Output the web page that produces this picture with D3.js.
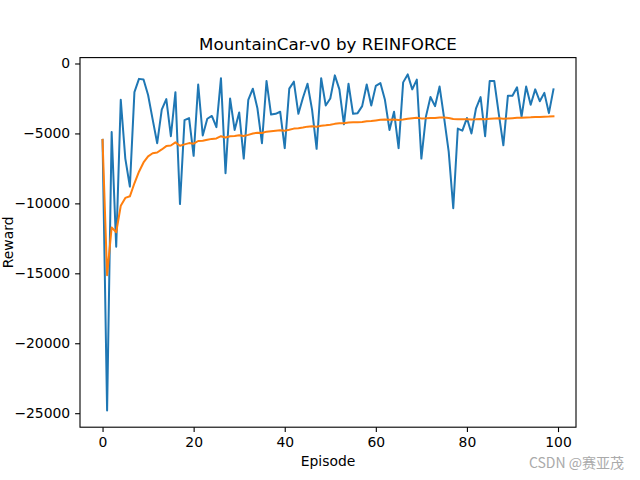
<!DOCTYPE html>
<html>
<head>
<meta charset="utf-8">
<script src="https://cdn.jsdelivr.net/npm/d3@7"></script>
<style>
  html, body { margin: 0; padding: 0; background: #fff; }
  svg { display: block; }
  text { font-family: "DejaVu Sans", sans-serif; }
</style>
</head>
<body>
<script>
// ---- data ----
const episodes = d3.range(0, 100);
const rewards = [
  -5460, -24800, -4900, -13100, -2600, -6800, -8800, -2050, -1100, -1150,
  -2250, -4000, -5700, -3300, -2550, -5200, -2050, -10050, -4050, -3900,
  -6600, -1500, -5150, -3950, -3750, -4550, -1050, -7850, -2500, -4750,
  -3500, -6800, -2600, -1800, -3200, -5700, -1250, -3650, -3600, -3450,
  -6050, -1800, -1300, -3600, -2450, -1450, -3300, -6100, -1050, -3000,
  -2500, -850, -1850, -4350, -1450, -3600, -3550, -3050, -1500, -3000,
  -1600, -1400, -2600, -4750, -3450, -6050, -1350, -780, -1850, -1150,
  -6800, -3800, -2400, -3050, -1650, -3900, -6300, -10350, -4650, -4800,
  -3900, -5000, -3200, -2400, -5200, -1250, -1250, -3600, -5850, -2300,
  -2300, -1700, -3800, -1650, -2950, -1850, -2700, -2100, -3550, -1850
];
const avgRewards = [
  -5460, -15130, -11720, -12065, -10172, -9610, -9495, -8563, -7735, -7076,
  -6638, -6418, -6363, -6144, -5905, -5860, -5636, -5881, -5785, -5691,
  -5734, -5541, -5525, -5459, -5390, -5358, -5198, -5294, -5197, -5182,
  -5128, -5180, -5102, -5005, -4953, -4974, -4873, -4841, -4809, -4775,
  -4807, -4735, -4655, -4631, -4583, -4515, -4489, -4522, -4451, -4422,
  -4384, -4316, -4270, -4271, -4220, -4209, -4197, -4177, -4132, -4113,
  -4072, -4029, -4006, -4018, -4009, -4040, -4000, -3952, -3921, -3883,
  -3924, -3922, -3901, -3890, -3860, -3860, -3892, -3975, -3983, -3994,
  -3992, -4005, -3995, -3976, -3990, -3958, -3927, -3923, -3945, -3927,
  -3909, -3884, -3883, -3860, -3849, -3830, -3818, -3801, -3796, -3779
];
const xTicks = [0, 20, 40, 60, 80, 100];
const yTicks = [0, -5000, -10000, -15000, -20000, -25000];
const titleText = "MountainCar-v0 by REINFORCE";
const xLabel = "Episode";
const yLabel = "Reward";
const watermark = "CSDN @赛亚茂";

// ---- layout ----
const W = 640, H = 480;
const L = 80, R = 576, T = 57.6, B = 427.2;

const svg = d3.select("body").append("svg").attr("width", W).attr("height", H);

// matplotlib-like 5% margins
const xmin = 0, xmax = 99;
const xm = (xmax - xmin) * 0.05;
const allY = rewards.concat(avgRewards);
const ymin = d3.min(allY), ymax = d3.max(allY);
const ym = (ymax - ymin) * 0.05;

const x = d3.scaleLinear().domain([xmin - xm, xmax + xm]).range([L, R]);
const y = d3.scaleLinear().domain([ymin - ym, ymax + ym]).range([B, T]);

const fmt = v => (v < 0 ? "\u2212" + Math.abs(v) : String(v));

// lines
const line = d3.line().x((d, i) => x(episodes[i])).y(d => y(d));
svg.append("path").datum(rewards).attr("d", line)
  .attr("fill", "none").attr("stroke", "#1f77b4").attr("stroke-width", 2)
  .attr("stroke-linejoin", "round").attr("stroke-linecap", "square");
svg.append("path").datum(avgRewards).attr("d", line)
  .attr("fill", "none").attr("stroke", "#ff7f0e").attr("stroke-width", 2)
  .attr("stroke-linejoin", "round").attr("stroke-linecap", "square");

// axes
const xAxis = d3.axisBottom(x).tickValues(xTicks).tickSize(4.9).tickPadding(4.9).tickFormat(fmt);
const yAxis = d3.axisLeft(y).tickValues(yTicks).tickSize(4.9).tickPadding(4.9).tickFormat(fmt);

const gx = svg.append("g").attr("transform", `translate(0,${B})`).call(xAxis);
const gy = svg.append("g").attr("transform", `translate(${L},0)`).call(yAxis);
[gx, gy].forEach(g => {
  g.select(".domain").remove();
  g.selectAll(".tick line").attr("stroke", "#000").attr("stroke-width", 1.1);
  g.selectAll(".tick text").attr("fill", "#000").style("font-size", "13.9px")
    .style("font-family", "DejaVu Sans, sans-serif");
});
gx.selectAll(".tick text").attr("dy", "0.71em");

// frame
svg.append("rect").attr("x", L).attr("y", T).attr("width", R - L).attr("height", B - T)
  .attr("fill", "none").attr("stroke", "#000").attr("stroke-width", 1.1);

// title & labels
svg.append("text").attr("x", (L + R) / 2).attr("y", 50).attr("text-anchor", "middle")
  .style("font-size", "16.7px").attr("fill", "#000").text(titleText);
svg.append("text").attr("x", (L + R) / 2).attr("y", 466).attr("text-anchor", "middle")
  .style("font-size", "13.9px").attr("fill", "#000").text(xLabel);
svg.append("text").attr("transform", `translate(12.5,${(T + B) / 2}) rotate(-90)`)
  .attr("text-anchor", "middle").style("font-size", "13.9px").attr("fill", "#000").text(yLabel);

// watermark
svg.append("text").attr("x", 624).attr("y", 468).attr("text-anchor", "end")
  .style("font-size", "14px").attr("fill", "#aaaaaa")
  .style("font-family", "'Noto Sans CJK SC', 'DejaVu Sans', sans-serif")
  .text(watermark);
</script>
</body>
</html>
